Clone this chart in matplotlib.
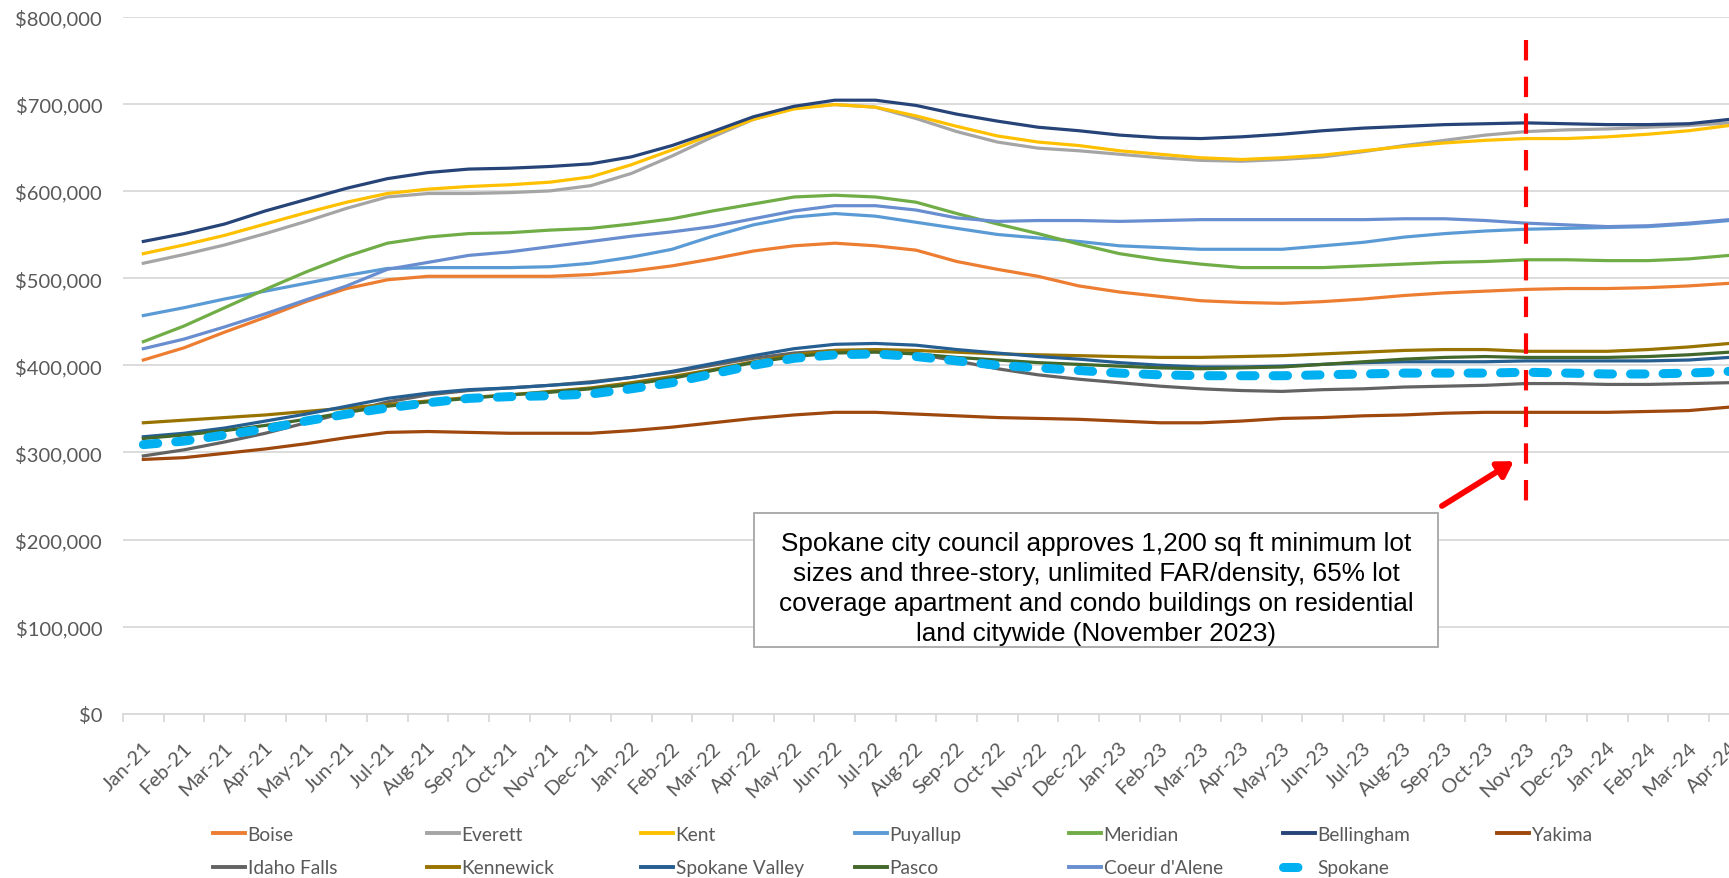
import matplotlib
matplotlib.use("Agg")
import matplotlib.pyplot as plt
import matplotlib.transforms as mtransforms
from matplotlib.lines import Line2D
from matplotlib.patches import Rectangle
from matplotlib.ticker import FuncFormatter, MultipleLocator, FixedLocator

plt.rcParams["font.family"] = ["Lato", "DejaVu Sans"]

months = ["Jan-21", "Feb-21", "Mar-21", "Apr-21", "May-21", "Jun-21", "Jul-21", "Aug-21",
          "Sep-21", "Oct-21", "Nov-21", "Dec-21", "Jan-22", "Feb-22", "Mar-22", "Apr-22",
          "May-22", "Jun-22", "Jul-22", "Aug-22", "Sep-22", "Oct-22", "Nov-22", "Dec-22",
          "Jan-23", "Feb-23", "Mar-23", "Apr-23", "May-23", "Jun-23", "Jul-23", "Aug-23",
          "Sep-23", "Oct-23", "Nov-23", "Dec-23", "Jan-24", "Feb-24", "Mar-24", "Apr-24"]

# Typical home values, thousands of dollars
boise = [406, 420, 438, 455, 473, 488, 498, 502, 502, 502, 502, 504, 508, 514, 522, 531,
         537, 540, 537, 532, 519, 510, 502, 491, 484, 479, 474, 472, 471, 473, 476, 480,
         483, 485, 487, 488, 488, 489, 491, 494]
everett = [517, 527, 538, 551, 565, 580, 593, 597, 597, 598, 600, 606, 620, 640, 662, 682,
           695, 699, 696, 683, 668, 656, 649, 646, 642, 638, 635, 634, 636, 639, 645, 652,
           658, 664, 668, 670, 671, 673, 675, 678]
kent = [528, 538, 549, 562, 575, 587, 597, 602, 605, 607, 610, 616, 630, 647, 665, 682,
        694, 699, 696, 686, 674, 663, 656, 652, 646, 642, 638, 636, 638, 641, 646, 651,
        655, 658, 660, 660, 662, 665, 669, 675]
puyallup = [457, 466, 476, 485, 494, 503, 511, 512, 512, 512, 513, 517, 524, 533, 548, 561,
            570, 574, 571, 564, 557, 550, 546, 542, 537, 535, 533, 533, 533, 537, 541, 547,
            551, 554, 556, 557, 558, 559, 562, 566]
meridian = [427, 445, 466, 487, 507, 525, 540, 547, 551, 552, 555, 557, 562, 568, 577, 585,
            593, 595, 593, 587, 574, 562, 551, 539, 528, 521, 516, 512, 512, 512, 514, 516,
            518, 519, 521, 521, 520, 520, 522, 526]
bellingham = [542, 551, 562, 577, 590, 603, 614, 621, 625, 626, 628, 631, 639, 652, 668, 685,
              697, 704, 704, 698, 688, 680, 673, 669, 664, 661, 660, 662, 665, 669, 672, 674,
              676, 677, 678, 677, 676, 676, 677, 682]
yakima = [292, 294, 299, 304, 310, 317, 323, 324, 323, 322, 322, 322, 325, 329, 334, 339,
          343, 346, 346, 344, 342, 340, 339, 338, 336, 334, 334, 336, 339, 340, 342, 343,
          345, 346, 346, 346, 346, 347, 348, 352]
idaho_falls = [296, 303, 312, 322, 334, 346, 358, 366, 371, 374, 377, 381, 386, 392, 400, 408,
               414, 417, 417, 413, 405, 396, 389, 384, 380, 376, 373, 371, 370, 372, 373, 375,
               376, 377, 379, 379, 378, 378, 379, 380]
kennewick = [334, 337, 340, 343, 347, 351, 355, 359, 363, 366, 370, 374, 380, 387, 395, 404,
             412, 417, 418, 417, 415, 413, 412, 411, 410, 409, 409, 410, 411, 413, 415, 417,
             418, 418, 416, 416, 416, 418, 421, 425]
spokane_valley = [318, 322, 328, 336, 344, 353, 362, 368, 372, 374, 377, 380, 386, 393, 402, 411,
                  419, 424, 425, 423, 418, 414, 410, 407, 403, 400, 398, 398, 399, 401, 403, 404,
                  404, 404, 405, 405, 405, 405, 406, 409]
pasco = [316, 320, 325, 331, 338, 346, 353, 358, 362, 366, 369, 373, 378, 385, 394, 403,
         410, 414, 415, 413, 409, 406, 403, 401, 399, 397, 396, 397, 398, 401, 404, 407,
         409, 410, 409, 409, 409, 410, 412, 415]
coeur_dalene = [419, 430, 444, 459, 475, 491, 510, 518, 526, 530, 536, 542, 548, 553, 559, 568,
                577, 583, 583, 578, 569, 565, 566, 566, 565, 566, 567, 567, 567, 567, 567, 568,
                568, 566, 563, 561, 559, 560, 563, 567]
spokane = [309, 313, 320, 327, 336, 344, 351, 357, 362, 364, 365, 367, 373, 380, 390, 400,
           408, 412, 413, 410, 405, 400, 397, 394, 391, 389, 388, 388, 388, 389, 390, 391,
           391, 391, 392, 391, 390, 390, 391, 393]

cities = ["Boise", "Everett", "Kent", "Puyallup", "Meridian", "Bellingham", "Yakima",
          "Idaho Falls", "Kennewick", "Spokane Valley", "Pasco", "Coeur d'Alene", "Spokane"]
series = [boise, everett, kent, puyallup, meridian, bellingham, yakima,
          idaho_falls, kennewick, spokane_valley, pasco, coeur_dalene, spokane]
colors = ["#ED7D31", "#A5A5A5", "#FFC000", "#5B9BD5", "#70AD47", "#264478", "#9E480E",
          "#636363", "#997300", "#255E91", "#43682B", "#698ED0", "#00B0F0"]

event_month = "Nov-23"
event_text = ("Spokane city council approves 1,200 sq ft minimum lot\n"
              "sizes and three-story, unlimited FAR/density, 65% lot\n"
              "coverage apartment and condo buildings on residential\n"
              "land citywide (November 2023)")

W, H = 1729, 879
fig = plt.figure(figsize=(W / 100, H / 100), dpi=100)
fig.patch.set_facecolor("white")

# plot area (runs slightly past the right edge of the canvas)
left_px, right_px, top_px, bottom_px = 123, 123 + 40 * 40.67, 17.5, 715
ax = fig.add_axes([left_px / W, (H - bottom_px) / H,
                   (right_px - left_px) / W, (bottom_px - top_px) / H])

x = list(range(len(months)))
handles = []
for name, vals, col in zip(cities, series, colors):
    y = [v * 1000 for v in vals]
    if name == "Spokane":
        ln, = ax.plot(x, y, color=col, lw=6.5, dashes=(1.6, 2.0),
                      dash_capstyle="round", solid_capstyle="round", zorder=5)
    else:
        ln, = ax.plot(x, y, color=col, lw=2.3, solid_joinstyle="round", zorder=3)
    handles.append(ln)

ax.set_xlim(-0.5, len(months) - 0.5)
ax.set_ylim(0, 800000)
ax.yaxis.set_major_locator(MultipleLocator(100000))
ax.yaxis.set_major_formatter(FuncFormatter(lambda v, p: f"${v:,.0f}"))
ax.grid(axis="y", color="#D9D9D9", lw=1.3, zorder=0)
ax.set_axisbelow(True)

for s in ("top", "right", "left"):
    ax.spines[s].set_visible(False)
ax.spines["bottom"].set_color("#D9D9D9")
ax.spines["bottom"].set_linewidth(1.3)

ax.xaxis.set_major_locator(FixedLocator(x))
ax.set_xticklabels(months, rotation=45, ha="right", va="center",
                   rotation_mode="anchor")
ax.xaxis.set_minor_locator(FixedLocator([i - 0.5 for i in range(len(months) + 1)]))
ax.tick_params(axis="x", which="major", length=0, pad=22, labelsize=14.5,
               labelcolor="#595959")
ax.tick_params(axis="x", which="minor", length=6, width=1.3, color="#D9D9D9")
ax.tick_params(axis="y", length=0, pad=15, labelsize=14.5, labelcolor="#595959")
shift = mtransforms.ScaledTranslation(0.05, 0, fig.dpi_scale_trans)
for lbl in ax.get_xticklabels():
    lbl.set_transform(lbl.get_transform() + shift)

# policy change marker
ev = months.index(event_month)
ax.plot([ev, ev], [773000, 232000], color="#FF0000", lw=3, dashes=(4.9, 3.9),
        solid_capstyle="butt", zorder=6)
ax.annotate("", xy=(33.7, 290000), xytext=(31.93, 238600),
            arrowprops=dict(arrowstyle="-|>,head_length=0.9,head_width=0.55",
                            color="#FF0000", lw=4.2, shrinkA=0, shrinkB=0),
            zorder=6)

# note box
bx0, bx1, by0, by1 = 754, 1438, 514, 648
fig.add_artist(Rectangle((bx0 / W, (H - by1) / H), (bx1 - bx0) / W, (by1 - by0) / H,
                         transform=fig.transFigure, facecolor="white",
                         edgecolor="#A6A6A6", lw=1.3, zorder=10))
fig.text((bx0 + bx1) / 2 / W, (H - 589) / H, event_text, ha="center", va="center",
         family=["Liberation Sans", "DejaVu Sans"], fontsize=18.8, color="#000000",
         linespacing=1.33, zorder=11)

# legend: 7 columns, filled row by row
ncol = 7
col_x0, col_step = 213, 214
for k in range(ncol):
    idx = [k] + ([k + ncol] if k + ncol < len(cities) else [])
    hs = []
    for i in idx:
        h = handles[i]
        if cities[i] == "Spokane":
            hs.append(Line2D([], [], color=h.get_color(), lw=6.5, dashes=(1.6, 2.0),
                             dash_capstyle="round"))
        else:
            hs.append(Line2D([], [], color=h.get_color(), lw=2.8))
    fig.legend(hs, [cities[i] for i in idx], loc="upper left",
               bbox_to_anchor=((col_x0 + col_step * k) / W, (H - 827) / H),
               frameon=False, fontsize=13.8, labelcolor="#595959",
               handlelength=1.65, handletextpad=0.15, borderpad=0,
               borderaxespad=0, labelspacing=0.85)

fig.savefig("out.png", dpi=100, facecolor="white")
